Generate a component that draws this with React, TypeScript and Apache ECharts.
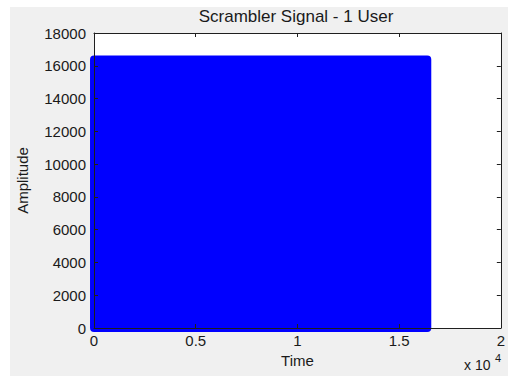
import React, { useEffect, useRef } from "react";
import * as echarts from "echarts";

const TITLE = "Scrambler Signal - 1 User";
const X_LABEL = "Time";
const Y_LABEL = "Amplitude";
const X_EXPONENT = "4";

// Scrambled output: every sample index carries an amplitude somewhere in the 14-bit range,
// so the scatter of all samples fills this envelope completely.
const sampleRange = [1, 16384];
const amplitudeRange = [0, 16383];

const xAxisRange = [0, 20000];
const xTickStep = 5000;
const yAxisRange = [0, 18000];
const yTickStep = 2000;

const FONT = "'Liberation Sans', Arial, Helvetica, sans-serif";
const TEXT = "#1a1a1a";
const AXIS = "#1f1f1f";
const BLUE = "#0000ff";

export default function App() {
  const ref = useRef<HTMLDivElement>(null);

  useEffect(() => {
    if (!ref.current) return;
    const chart = echarts.init(ref.current, undefined, { renderer: "svg" });

    const axisCommon = {
      type: "value" as const,
      splitLine: { show: false },
      axisLine: { show: true, onZero: false, lineStyle: { color: AXIS, width: 1 } },
      axisTick: { show: true, inside: true, length: 4, lineStyle: { color: AXIS } },
      z: 10,
    };

    chart.setOption({
      animation: false,
      backgroundColor: "transparent",
      grid: {
        left: 94,
        right: 5,
        top: 33,
        bottom: 48,
        show: true,
        backgroundColor: "#ffffff",
        borderWidth: 0,
      },
      xAxis: [
        {
          ...axisCommon,
          position: "bottom",
          min: xAxisRange[0],
          max: xAxisRange[1],
          interval: xTickStep,
          axisLabel: {
            margin: 5,
            fontFamily: FONT,
            fontSize: 15,
            color: TEXT,
            formatter: (v: number) => String(v / 10000),
          },
          name: X_LABEL,
          nameLocation: "middle",
          nameGap: 23,
          nameTextStyle: { fontFamily: FONT, fontSize: 15, color: TEXT },
        },
        {
          ...axisCommon,
          position: "top",
          min: xAxisRange[0],
          max: xAxisRange[1],
          interval: xTickStep,
          axisLabel: { show: false },
        },
      ],
      yAxis: [
        {
          ...axisCommon,
          position: "left",
          min: yAxisRange[0],
          max: yAxisRange[1],
          interval: yTickStep,
          axisLabel: {
            margin: 8,
            fontFamily: FONT,
            fontSize: 15,
            color: TEXT,
            formatter: (v: number) => String(v),
          },
          name: Y_LABEL,
          nameLocation: "middle",
          nameGap: 64,
          nameTextStyle: { fontFamily: FONT, fontSize: 15, color: TEXT },
        },
        {
          ...axisCommon,
          position: "right",
          min: yAxisRange[0],
          max: yAxisRange[1],
          interval: yTickStep,
          axisLabel: { show: false },
        },
      ],
      graphic: [
        {
          type: "text",
          x: 296,
          y: 16,
          style: {
            text: TITLE,
            font: `17px ${FONT}`,
            fill: TEXT,
            align: "center",
            verticalAlign: "middle",
          },
        },
        {
          type: "text",
          left: 464,
          top: 358,
          style: { text: "x 10", font: `14px ${FONT}`, fill: TEXT },
        },
        {
          type: "text",
          left: 495,
          top: 352,
          style: { text: X_EXPONENT, font: `11px ${FONT}`, fill: TEXT },
        },
      ],
      series: [
        {
          type: "custom",
          xAxisIndex: 0,
          yAxisIndex: 0,
          z: 2,
          clip: false,
          data: [[sampleRange[0], sampleRange[1], amplitudeRange[0], amplitudeRange[1]]],
          encode: { x: [0, 1], y: [2, 3] },
          renderItem: (_params: any, api: any) => {
            const topLeft = api.coord([api.value(0), api.value(3)]);
            const bottomRight = api.coord([api.value(1), api.value(2)]);
            return {
              type: "rect",
              shape: {
                x: topLeft[0],
                y: topLeft[1],
                width: bottomRight[0] - topLeft[0],
                height: bottomRight[1] - topLeft[1],
              },
              style: { fill: BLUE, stroke: BLUE, lineWidth: 8, lineJoin: "round" },
            };
          },
        },
      ],
    });

    return () => chart.dispose();
  }, []);

  return (
    <div style={{ position: "fixed", left: 0, top: 0, width: 508, height: 376, background: "#ffffff" }}>
      <div
        style={{
          position: "absolute",
          left: 10,
          top: 7,
          width: 498,
          height: 369,
          background: "#f0f0f0",
        }}
      />
      <div ref={ref} style={{ position: "absolute", left: 0, top: 0, width: 508, height: 376 }} />
    </div>
  );
}
